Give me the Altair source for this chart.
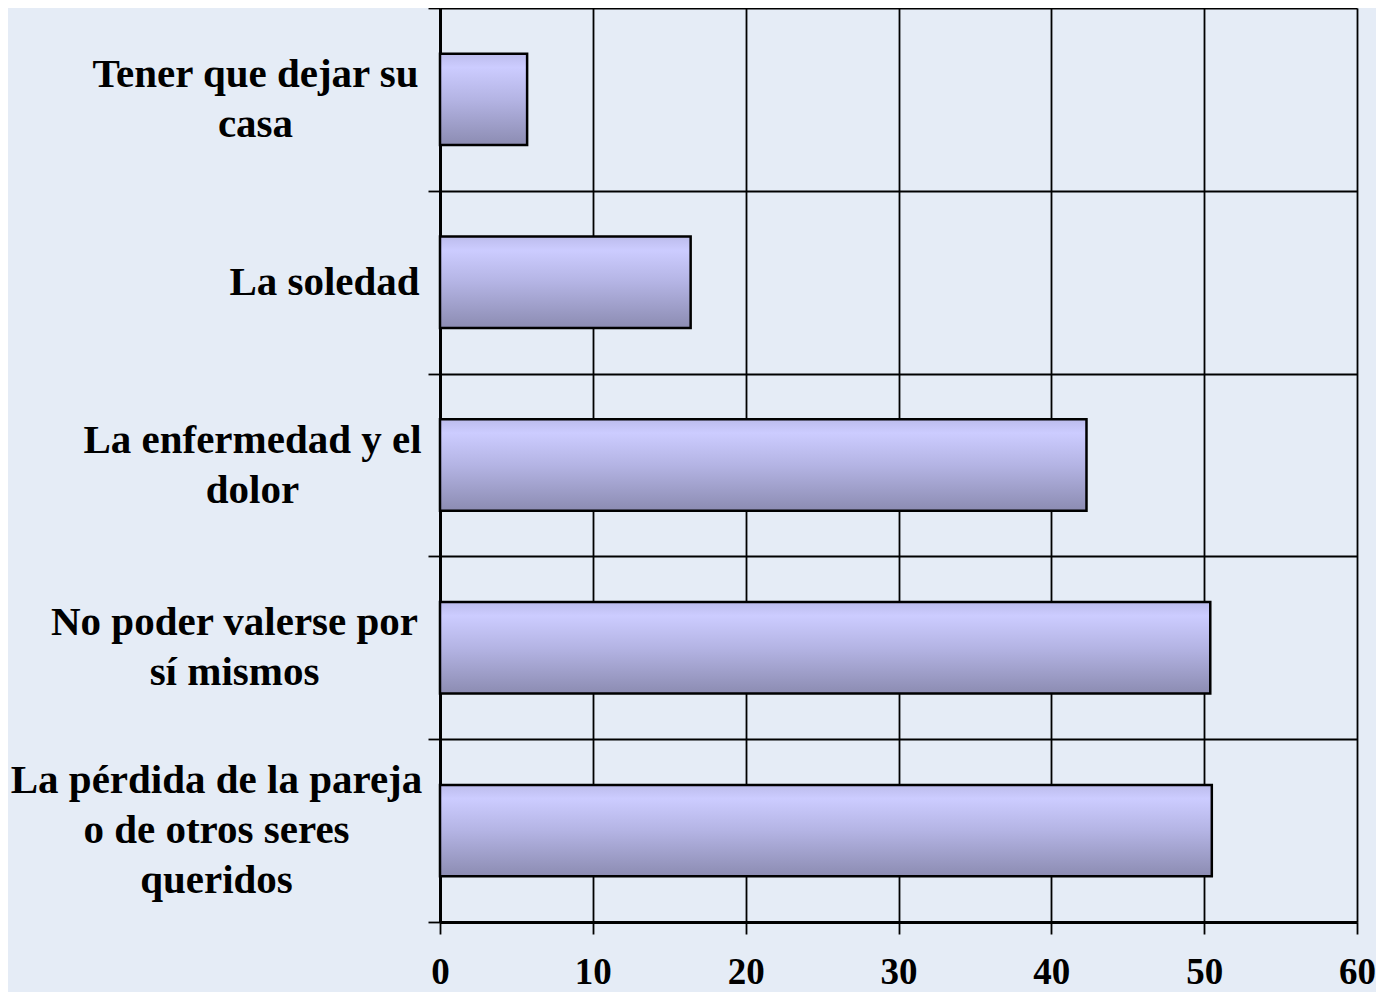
import altair as alt
import pandas as pd

categories = [
    "Tener que dejar su|casa",
    "La soledad",
    "La enfermedad y el|dolor",
    "No poder valerse por|sí mismos",
    "La pérdida de la pareja|o de otros seres|queridos",
]
values = [5.7, 16.4, 42.3, 50.4, 50.5]
# horizontal centre of each label block in the reference (pixels left of tick end)
label_pad = [173, 104, 176, 194, 212]
line_h = 50

df = pd.DataFrame({"cat": categories, "val": values})

grad = alt.Gradient(
    gradient="linear",
    stops=[
        alt.GradientStop(color="#bcbcec", offset=0),
        alt.GradientStop(color="#ccccff", offset=0.15),
        alt.GradientStop(color="#b4b4e4", offset=0.5),
        alt.GradientStop(color="#8c8cb2", offset=1),
    ],
    x1=0, x2=0, y1=0, y2=1,
)

FONT = "Liberation Serif"

pad_cond = {
    "condition": [
        {"test": f"datum.value === {c!r}", "value": p}
        for c, p in zip(categories, label_pad)
    ],
    "value": 8,
}
off_cond = {
    "condition": [
        {"test": f"datum.value === {c!r}", "value": -(c.count("|")) * line_h / 2}
        for c in categories
    ],
    "value": 0,
}

chart = alt.Chart(df).mark_bar(
    color=grad, stroke="black", strokeWidth=2.5, height=alt.RelativeBandSize(0.5)
).encode(
    x=alt.X(
        "val:Q",
        scale=alt.Scale(domain=[0, 60], nice=False),
        axis=alt.Axis(
            values=[0, 10, 20, 30, 40, 50, 60],
            title=None,
            grid=True, gridColor="black", gridWidth=1.8, gridOpacity=1,
            domainColor="black", domainWidth=3,
            tickColor="black", tickWidth=1.8, tickSize=12,
            labelFont=FONT, labelFontWeight="bold", labelFontSize=37,
            labelColor="black", labelPadding=20, labelFlush=False,
        ),
    ),
    y=alt.Y(
        "cat:N",
        sort=categories,
        scale=alt.Scale(paddingInner=0, paddingOuter=0),
        axis=alt.Axis(
            title=None,
            tickBand="extent",
            grid=True, gridColor="black", gridWidth=1.8, gridOpacity=1,
            domainColor="black", domainWidth=3,
            tickColor="black", tickWidth=1.8, tickSize=12,
            labelExpr="split(datum.label, '|')",
            labelFont=FONT, labelFontWeight="bold", labelFontSize=41,
            labelColor="black", labelLineHeight=line_h, labelLimit=600,
            labelPadding=pad_cond, labelAlign="center", labelOffset=off_cond,
        ),
    ),
).properties(
    width=917,
    height=914,
    background="#e5ecf6",
    padding={"left": 432, "top": 0, "right": 19, "bottom": 90},
    autosize=alt.AutoSizeParams(type="none"),
).configure_view(stroke=None)

chart.save("out.html", embed_options={"renderer": "svg", "actions": False})
